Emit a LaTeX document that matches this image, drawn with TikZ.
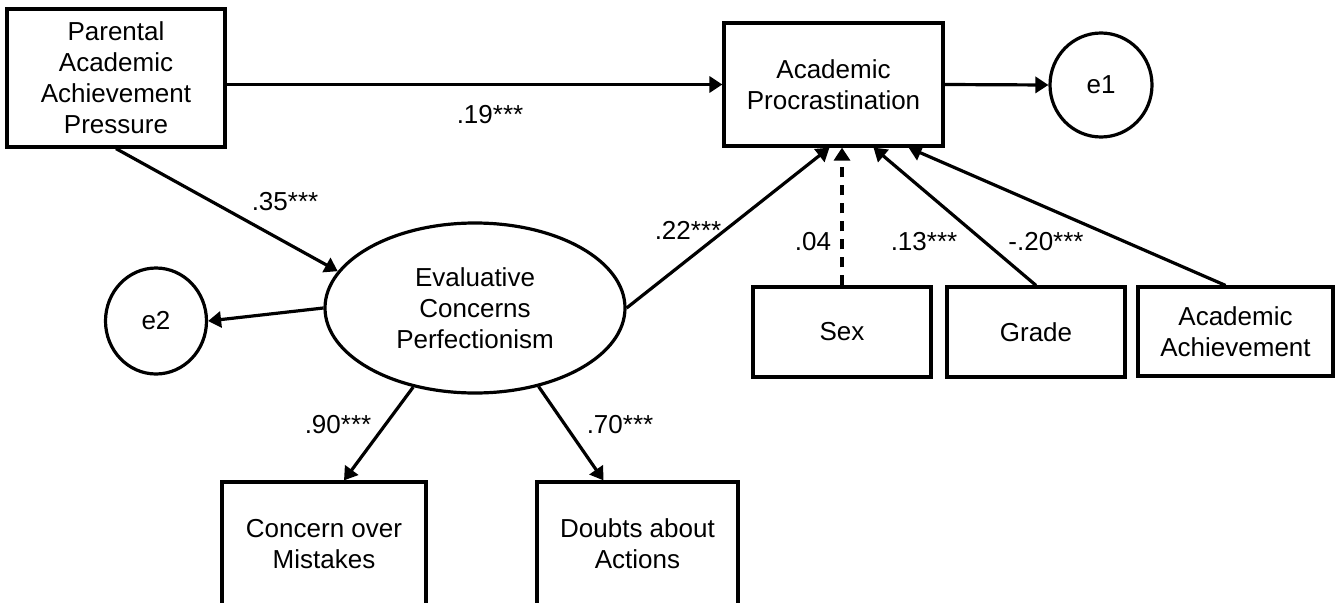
\documentclass[tikz,border=0pt]{standalone}
\usepackage{fontspec}
\setmainfont{Liberation Sans}
\usetikzlibrary{arrows.meta,shapes.geometric}
\begin{document}
\begin{tikzpicture}[x=1pt,y=-1pt,
  every node/.style={font=\fontsize{26pt}{31pt}\selectfont},
  box/.style={draw,line width=3.2pt,rectangle,inner sep=0pt,align=center},
  oval/.style={draw,line width=3.2pt,ellipse,inner sep=0pt,align=center},
  lbl/.style={inner sep=0pt},
  arr/.style={line width=3.2pt,-{Triangle[length=13pt,width=16pt]}},
  darr/.style={arr,dash pattern=on 10pt off 8pt}]
\useasboundingbox (0,0) rectangle (1335,602);
\clip (0,0) rectangle (1335,602);
\node[box,minimum width=218pt,minimum height=138pt] (par) at (116,78) {Parental\\Academic\\Achievement\\Pressure};
\node[box,minimum width=219pt,minimum height=123pt] (ap) at (833.5,84.5) {Academic\\Procrastination};
\node[oval,minimum width=102pt,minimum height=104pt] (e1) at (1101,85) {e1};
\node[oval,minimum width=101pt,minimum height=106pt] (e2) at (156,321) {e2};
\node[oval,minimum width=300pt,minimum height=170pt] (ev) at (475,308) {Evaluative\\Concerns\\Perfectionism};
\node[box,minimum width=178pt,minimum height=90pt] (sex) at (842,332) {Sex};
\node[box,minimum width=178pt,minimum height=90pt] (grade) at (1036,332) {Grade};
\node[box,minimum width=195pt,minimum height=89pt] (ach) at (1235.5,331.5) {Academic\\Achievement};
\node[box,minimum width=204pt,minimum height=124pt] (com) at (324,544) {Concern over\\Mistakes};
\node[box,minimum width=201pt,minimum height=124pt] (doa) at (637.5,544) {Doubts about\\Actions};
\draw[arr] (par.east |- ap.west) -- (ap.west);
\draw[arr] (ap.east) -- (e1.west);
\draw[arr] (par.south) -- (ev.165);
\draw[arr] (ev.west) -- (e2.east);
\draw[arr] (ev.east) -- ([xshift=-4pt]ap.south);
\draw[darr] (sex.north) -- (sex.north |- ap.south);
\draw[arr] (grade.north) -- ([xshift=40pt]ap.south);
\draw[arr] ([xshift=-10pt]ach.north) -- ([xshift=75pt]ap.south);
\draw[arr] (ev.232) -- ([xshift=20pt]com.north);
\draw[arr] (ev.-51) -- ([xshift=-34pt]doa.north);
\node[lbl] (l19) at (490,115) {.19***};
\node[lbl] (l35) at (285,202) {.35***};
\node[lbl] (l22) at (688,230) {.22***};
\node[lbl] (l04) at (813,242) {.04};
\node[lbl] (l13) at (924,242) {.13***};
\node[lbl] (l20) at (1046,242) {-.20***};
\node[lbl] (l90) at (338,425) {.90***};
\node[lbl] (l70) at (620,425) {.70***};
\end{tikzpicture}
\end{document}
